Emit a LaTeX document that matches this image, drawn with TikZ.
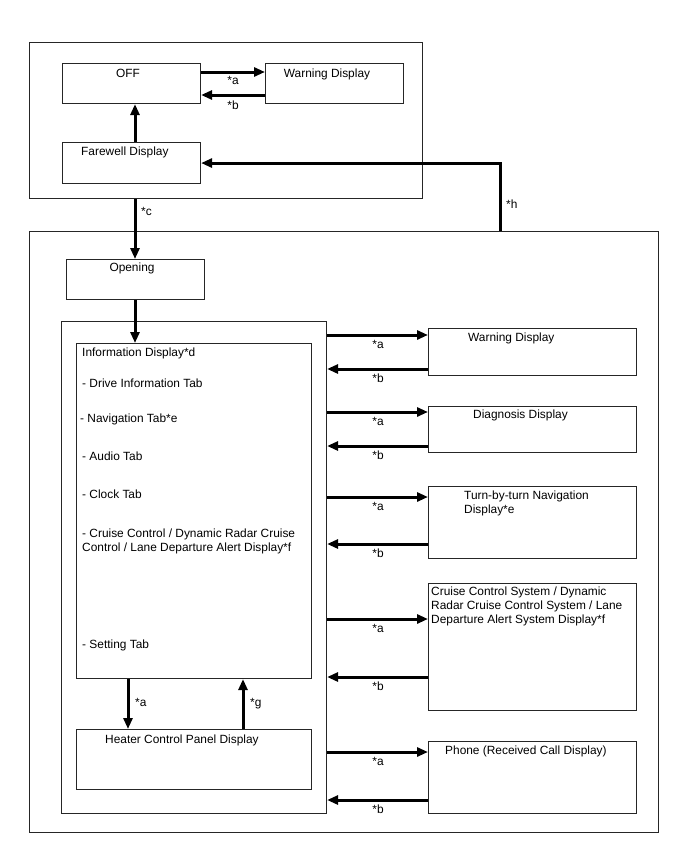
\documentclass[tikz,border=0pt]{standalone}
\usepackage{fontspec}
\setmainfont{Liberation Sans}
\usetikzlibrary{arrows.meta}
\begin{document}
\begin{tikzpicture}[x=1pt,y=-1pt,
  box/.style={draw=black!85,line width=1.1pt,rectangle,inner sep=0pt,anchor=north west},
  txt/.style={inner sep=0pt,font=\fontsize{11.9}{14}\selectfont},
  arr/.style={line width=3pt,-{Triangle[length=11pt,width=9pt]}}]
\useasboundingbox (0,0) rectangle (688,852);
\fill[white] (0,0) rectangle (688,852);
% boxes
\node[box,minimum width=393pt,minimum height=156pt] (topbox) at (29,42) {};
\node[box,minimum width=138pt,minimum height=40pt] (off) at (62,63) {};
\node[box,minimum width=138pt,minimum height=40pt] (warn1) at (265,63) {};
\node[box,minimum width=138pt,minimum height=41pt] (farewell) at (62,142) {};
\node[box,minimum width=629pt,minimum height=601pt] (mainbox) at (29,231) {};
\node[box,minimum width=138pt,minimum height=40pt] (opening) at (66,259) {};
\node[box,minimum width=265pt,minimum height=492pt] (infoout) at (61,321) {};
\node[box,minimum width=235pt,minimum height=335pt] (infoin) at (76,343) {};
\node[box,minimum width=235pt,minimum height=60pt] (heater) at (76,729) {};
\node[box,minimum width=208pt,minimum height=47pt] (warn2) at (428,328) {};
\node[box,minimum width=208pt,minimum height=46pt] (diag) at (428,406) {};
\node[box,minimum width=208pt,minimum height=72pt] (turn) at (428,486) {};
\node[box,minimum width=208pt,minimum height=127pt] (cruise) at (428,583) {};
\node[box,minimum width=208pt,minimum height=72pt] (phone) at (428,741) {};
% texts
\node[txt,anchor=base] (toff) at (128,77) {OFF};
\node[txt,anchor=base] (twarn1) at (327,77) {Warning Display};
\node[txt,anchor=base west] (tfare) at (81,155) {Farewell Display};
\node[txt,anchor=base] (topen) at (132,271) {Opening};
\node[txt,anchor=base west] (ti0) at (82,356) {Information Display*d};
\node[txt,anchor=base west] (ti1) at (82,387) {- Drive Information Tab};
\node[txt,anchor=base west] (ti2) at (80,422) {- Navigation Tab*e};
\node[txt,anchor=base west] (ti3) at (82,460) {- Audio Tab};
\node[txt,anchor=base west] (ti4) at (82,498) {- Clock Tab};
\node[txt,anchor=base west] (ti5) at (82,537) {- Cruise Control / Dynamic Radar Cruise};
\node[txt,anchor=base west] (ti6) at (82,551) {Control / Lane Departure Alert Display*f};
\node[txt,anchor=base west] (ti7) at (82,648) {- Setting Tab};
\node[txt,anchor=base west] (theat) at (105,743) {Heater Control Panel Display};
\node[txt,anchor=base west] (twarn2) at (468,341) {Warning Display};
\node[txt,anchor=base west] (tdiag) at (473,418) {Diagnosis Display};
\node[txt,anchor=base west] (tturn1) at (464,499) {Turn-by-turn Navigation};
\node[txt,anchor=base west] (tturn2) at (464,513) {Display*e};
\node[txt,anchor=base west] (tcr1) at (431,595) {Cruise Control System / Dynamic};
\node[txt,anchor=base west] (tcr2) at (431,609) {Radar Cruise Control System / Lane};
\node[txt,anchor=base west] (tcr3) at (431,623) {Departure Alert System Display*f};
\node[txt,anchor=base west] (tphone) at (445,754) {Phone (Received Call Display)};
% connectors
\draw[arr] (off.east |- 0,72) -- (warn1.west |- 0,72);
\draw[arr] (warn1.west |- 0,95) -- (off.east |- 0,95);
\node[txt,anchor=base] (la1) at (233,84) {*a};
\node[txt,anchor=base] (lb1) at (233,109) {*b};
\draw[arr] (farewell.north -| 135,0) -- (off.south -| 135,0);
\draw[arr] (topbox.south -| 135,0) -- (opening.north -| 135,0);
\node[txt,anchor=base west] (lc) at (141,215) {*c};
\draw[arr] (mainbox.north -| 500,0) |- (farewell.east);
\node[txt,anchor=base west] (lh) at (506,208) {*h};
\draw[arr] (opening.south -| 135,0) -- (infoin.north -| 135,0);
\draw[arr] (infoin.south -| 128,0) -- (heater.north -| 128,0);
\node[txt,anchor=base west] (lah) at (135,706) {*a};
\draw[arr] (heater.north -| 243,0) -- (infoin.south -| 243,0);
\node[txt,anchor=base west] (lg) at (250,706) {*g};
\foreach \b/\ya/\yb in {warn2/335/369, diag/412/446, turn/497/544, cruise/619/677, phone/752/800}{
  \draw[arr] (infoout.east |- 0,\ya) -- (\b.west |- 0,\ya);
  \draw[arr] (\b.west |- 0,\yb) -- (infoout.east |- 0,\yb);
  \node[txt,anchor=base] (la-\b) at (378,\ya+13) {*a};
  \node[txt,anchor=base] (lb-\b) at (378,\yb+13) {*b};
}
\end{tikzpicture}
\end{document}
